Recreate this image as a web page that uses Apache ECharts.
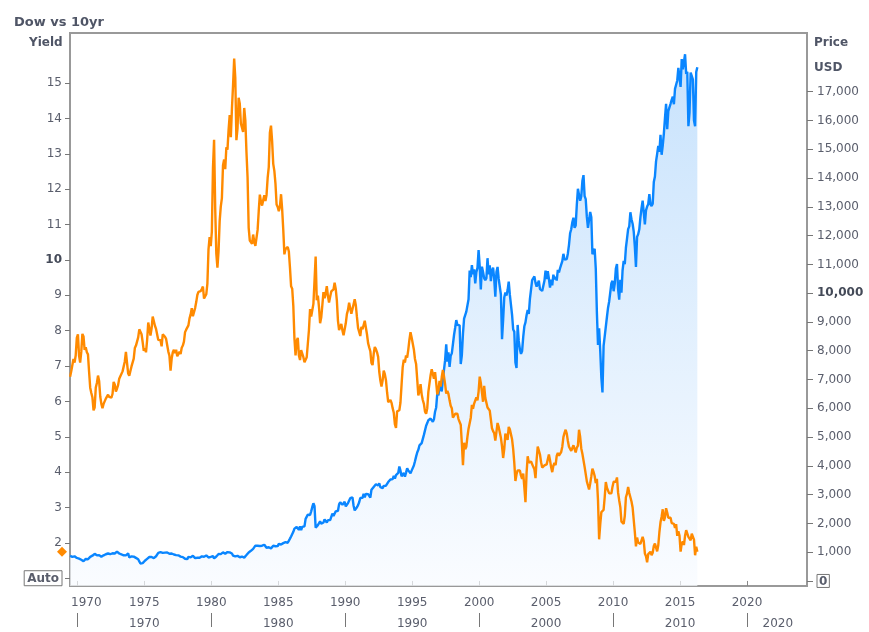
<!DOCTYPE html>
<html><head><meta charset="utf-8">
<script src="https://cdn.jsdelivr.net/npm/echarts@6/dist/echarts.min.js"></script>
<style>html,body{margin:0;padding:0;background:#fff}#c{width:869px;height:632px}</style>
</head><body><div id="c"></div>
<script>
// Monthly series starting June 1969, ending April 2016
const startYear = 1969, startMonth = 6;

const yield10 = [
  6.70, 6.85, 6.90, 7.20, 7.10, 7.30, 7.80,
  7.90, 7.30, 7.10, 7.40, 7.91, 7.84, 7.46, 7.53, 7.39, 7.33, 6.84, 6.39,
  6.24, 6.11, 5.75, 5.83, 6.39, 6.52, 6.73, 6.58, 6.14, 5.93, 5.81, 5.93,
  5.95, 6.08, 6.07, 6.19, 6.13, 6.11, 6.11, 6.21, 6.55, 6.48, 6.28, 6.36,
  6.46, 6.64, 6.71, 6.67, 6.85, 6.90, 7.13, 7.40, 7.09, 6.79, 6.73, 6.74,
  6.99, 6.96, 7.21, 7.51, 7.58, 7.54, 7.81, 8.04, 8.04, 7.90, 7.68, 7.43,
  7.50, 7.39, 7.73, 8.23, 8.06, 7.86, 8.06, 8.40, 8.43, 8.14, 8.05, 8.00,
  7.74, 7.79, 7.73, 7.56, 7.90, 7.86, 7.83, 7.77, 7.59, 7.41, 7.29, 6.87,
  7.21, 7.39, 7.46, 7.37, 7.46, 7.28, 7.33, 7.40, 7.34, 7.52, 7.58, 7.69,
  7.96, 8.03, 8.04, 8.15, 8.35, 8.46, 8.64, 8.41, 8.42, 8.64, 8.81, 9.01,
  9.10, 9.10, 9.12, 9.18, 9.25, 8.91, 8.95, 9.03, 9.33, 10.30, 10.65, 10.39,
  10.80, 12.60, 13.40, 11.47, 10.18, 9.78, 10.25, 11.10, 11.51, 11.75, 12.68, 12.84,
  12.57, 13.19, 13.12, 13.68, 14.10, 13.47, 14.28, 14.94, 15.70, 15.15, 13.39, 13.72,
  14.59, 14.43, 13.86, 13.87, 13.62, 14.30, 13.95, 13.06, 12.34, 10.91, 10.55, 10.54,
  10.46, 10.72, 10.51, 10.40, 10.38, 10.85, 11.38, 11.85, 11.65, 11.54, 11.69, 11.83,
  11.67, 11.84, 12.32, 12.63, 13.60, 13.80, 13.36, 12.72, 12.52, 12.16, 11.57, 11.50,
  11.38, 11.51, 11.86, 11.43, 10.85, 10.16, 10.31, 10.33, 10.37, 10.24, 9.78, 9.26,
  9.19, 8.70, 7.78, 7.30, 7.71, 7.80, 7.30, 7.17, 7.45, 7.43, 7.25, 7.11,
  7.08, 7.25, 7.25, 8.02, 8.61, 8.40, 8.45, 8.76, 9.42, 10.10, 8.86, 8.99,
  8.67, 8.21, 8.37, 8.72, 9.09, 8.92, 9.06, 9.26, 8.98, 8.80, 8.96, 9.11,
  9.09, 9.17, 9.36, 9.18, 8.86, 8.28, 8.02, 8.11, 8.19, 8.01, 7.87, 7.84,
  8.21, 8.47, 8.59, 8.79, 8.76, 8.48, 8.47, 8.75, 8.89, 8.72, 8.39, 8.08,
  8.09, 7.85, 8.11, 8.04, 8.07, 8.28, 8.27, 7.90, 7.65, 7.53, 7.42, 7.09,
  7.03, 7.34, 7.54, 7.48, 7.39, 7.26, 6.84, 6.59, 6.42, 6.59, 6.87, 6.77,
  6.60, 6.26, 5.98, 5.97, 6.04, 5.96, 5.81, 5.68, 5.36, 5.25, 5.72, 5.77,
  5.75, 5.97, 6.48, 6.97, 7.18, 7.10, 7.30, 7.24, 7.46, 7.74, 7.96, 7.81,
  7.78, 7.47, 7.20, 7.06, 6.63, 6.17, 6.28, 6.49, 6.20, 6.04, 5.93, 5.71,
  5.65, 5.81, 6.27, 6.51, 6.74, 6.91, 6.87, 6.64, 6.83, 6.53, 6.20, 6.30,
  6.58, 6.42, 6.69, 6.89, 6.71, 6.49, 6.22, 6.30, 6.21, 6.03, 5.88, 5.81,
  5.54, 5.57, 5.65, 5.64, 5.65, 5.50, 5.46, 5.34, 4.81, 4.20, 4.83, 4.65,
  4.72, 5.00, 5.23, 5.18, 5.54, 5.90, 5.79, 5.94, 5.92, 6.11, 6.03, 6.28,
  6.70, 6.52, 6.26, 5.99, 6.44, 6.10, 6.05, 5.83, 5.80, 5.74, 5.72, 5.24,
  5.16, 5.10, 4.89, 5.14, 5.39, 5.28, 5.24, 4.97, 4.73, 4.40, 4.65, 5.09,
  5.04, 4.91, 5.28, 5.21, 5.16, 4.93, 4.65, 4.26, 3.75, 3.94, 4.05, 4.03,
  4.05, 3.90, 3.81, 3.96, 3.57, 3.15, 3.98, 4.45, 4.27, 4.29, 4.30, 4.27,
  4.15, 4.08, 3.83, 4.35, 4.72, 4.73, 4.50, 4.28, 4.13, 4.10, 4.19, 4.23,
  4.22, 4.17, 4.50, 4.34, 4.14, 4.00, 4.18, 4.26, 4.20, 4.46, 4.54, 4.47,
  4.42, 4.57, 4.72, 4.99, 5.11, 5.20, 5.09, 4.88, 4.72, 4.73, 4.60, 4.56,
  4.76, 4.72, 4.56, 4.69, 4.75, 5.20, 5.00, 4.67, 4.52, 4.53, 4.15, 4.10,
  3.74, 3.74, 3.51, 3.68, 3.88, 4.10, 4.01, 3.89, 3.69, 3.81, 3.20, 2.10,
  2.52, 2.87, 2.82, 2.93, 3.29, 3.72, 3.56, 3.59, 3.40, 3.39, 3.40, 3.59,
  3.73, 3.69, 3.73, 3.85, 3.42, 3.20, 3.01, 2.60, 2.65, 2.54, 2.76, 3.29,
  3.39, 3.58, 3.41, 3.46, 3.17, 3.00, 3.00, 2.30, 1.90, 2.15, 2.01, 1.98,
  1.97, 1.97, 2.17, 2.05, 1.70, 1.62, 1.45, 1.68, 1.72, 1.75, 1.65, 1.72,
  1.91, 1.98, 1.96, 1.76, 1.93, 2.30, 2.58, 2.74, 2.95, 2.62, 2.72, 2.98,
  2.86, 2.71, 2.72, 2.71, 2.56, 2.60, 2.54, 2.42, 2.53, 2.20, 2.33, 2.21,
  1.75, 1.98, 2.04, 1.94, 2.20, 2.36, 2.32, 2.17, 2.17, 2.07, 2.26, 2.24,
  2.09, 1.65, 1.89, 1.75
];

const dow = [
  873, 815, 837, 813, 856, 812, 800,
  744, 778, 786, 736, 700, 684, 734, 765, 761, 756, 794, 839,
  869, 878, 904, 941, 907, 891, 858, 898, 887, 839, 831, 890,
  902, 928, 941, 954, 961, 929, 925, 964, 953, 956, 1018, 1020,
  999, 955, 951, 921, 901, 891, 926, 888, 947, 956, 822, 851,
  856, 861, 847, 837, 802, 802, 757, 679, 608, 666, 619, 616,
  704, 739, 768, 821, 832, 879, 832, 835, 794, 836, 860, 852,
  975, 973, 999, 997, 975, 1003, 985, 974, 990, 965, 948, 1005,
  954, 936, 919, 927, 899, 916, 891, 862, 847, 818, 830, 831,
  770, 742, 757, 837, 841, 819, 862, 877, 866, 793, 799, 805,
  839, 809, 862, 855, 822, 842, 846, 888, 879, 816, 822, 839,
  876, 863, 786, 817, 851, 868, 935, 933, 932, 925, 993, 964,
  947, 975, 1004, 998, 992, 977, 953, 882, 850, 853, 889, 875,
  871, 824, 823, 849, 820, 812, 809, 901, 896, 992, 1039, 1047,
  1076, 1113, 1130, 1226, 1200, 1222, 1199, 1216, 1233, 1225, 1276, 1259,
  1221, 1155, 1165, 1171, 1105, 1132, 1115, 1224, 1207, 1207, 1188, 1212,
  1287, 1284, 1267, 1258, 1315, 1336, 1348, 1334, 1329, 1375, 1472, 1547,
  1571, 1709, 1819, 1784, 1877, 1893, 1775, 1898, 1768, 1878, 1914, 1896,
  2158, 2224, 2305, 2286, 2292, 2419, 2572, 2700, 2596, 1850, 1834, 1939,
  1958, 2072, 1988, 2032, 2031, 2142, 2129, 2032, 2113, 2149, 2115, 2169,
  2342, 2258, 2294, 2419, 2480, 2440, 2661, 2737, 2693, 2645, 2706, 2753,
  2591, 2627, 2707, 2657, 2877, 2881, 2905, 2614, 2453, 2442, 2560, 2634,
  2736, 2882, 2914, 2888, 3028, 2907, 3025, 3044, 3017, 3070, 2895, 3169,
  3224, 3267, 3236, 3359, 3397, 3319, 3394, 3257, 3272, 3226, 3305, 3301,
  3310, 3371, 3436, 3428, 3527, 3516, 3540, 3651, 3555, 3681, 3684, 3754,
  3978, 3832, 3636, 3682, 3758, 3625, 3765, 3913, 3843, 3908, 3739, 3834,
  3844, 4011, 4158, 4321, 4465, 4556, 4709, 4650, 4789, 4756, 5075, 5117,
  5395, 5486, 5587, 5569, 5643, 5655, 5529, 5616, 5882, 6029, 6522, 6448,
  6813, 6878, 6584, 7009, 7331, 7673, 8223, 7622, 7945, 7442, 7823, 7908,
  7907, 8546, 8800, 9063, 8900, 8952, 8883, 7539, 7843, 8592, 9117, 9181,
  9359, 9307, 9786, 10789, 10560, 10971, 10655, 10829, 10337, 10730, 10878, 11497,
  10941, 10128, 10922, 10734, 10522, 10448, 10522, 11215, 10651, 10971, 10415, 10788,
  10887, 10495, 9879, 10735, 10912, 10502, 10523, 9950, 8400, 9075, 9852, 10022,
  9920, 10106, 10404, 9946, 9925, 9243, 8737, 8664, 7592, 7400, 8896, 8342,
  8054, 7891, 7992, 8480, 8850, 8985, 9234, 9416, 9275, 9801, 9782, 10454,
  10488, 10584, 10358, 10226, 10188, 10435, 10140, 10174, 10080, 10027, 10428, 10783,
  10490, 10766, 10504, 10193, 10467, 10275, 10641, 10482, 10569, 10440, 10806, 10718,
  10865, 10993, 11109, 11367, 11168, 11150, 11186, 11381, 11679, 12081, 12222, 12463,
  12622, 12269, 12354, 13063, 13628, 13409, 13212, 13358, 13896, 14100, 13372, 13265,
  12650, 12266, 12263, 12820, 12638, 11350, 11378, 11544, 10851, 9325, 8200, 8776,
  8001, 7063, 6550, 8168, 8500, 8447, 9172, 9496, 9712, 9713, 10345, 10428,
  10067, 10325, 10857, 11009, 10137, 9774, 10466, 10015, 10788, 11118, 11006, 11578,
  11892, 12226, 12320, 12811, 12570, 12414, 12143, 11614, 10913, 11955, 12046, 12218,
  12633, 12952, 13212, 13214, 12393, 12880, 13009, 13091, 13437, 13096, 13026, 13104,
  13861, 14054, 14579, 14840, 15116, 14910, 15500, 14810, 15130, 15546, 16086, 16577,
  15699, 16322, 16458, 16581, 16717, 16827, 16563, 17098, 17043, 17391, 17828, 17823,
  17165, 18133, 17776, 17841, 18300, 17620, 17690, 15800, 16285, 17664, 17720, 17425,
  16000, 15800, 17685, 17850
];

const yearTicks = [1970, 1975, 1980, 1985, 1990, 1995, 2000, 2005, 2010, 2015, 2020];
const decadeTicks = [1970, 1980, 1990, 2000, 2010, 2020];
const decadeLabelPos = [1975, 1985, 1995, 2005, 2015, 2022.3];
const yieldTicks = [1, 2, 3, 4, 5, 6, 7, 8, 9, 10, 11, 12, 13, 14, 15];
const priceTicks = [0, 1000, 2000, 3000, 4000, 5000, 6000, 7000, 8000, 9000, 10000, 11000, 12000, 13000, 14000, 15000, 16000, 17000];

const monthX = i => startYear + (startMonth - 1 + i + 0.5) / 12;
const yieldData = yield10.map((v, i) => [monthX(i), v]);
const dowData = dow.map((v, i) => [monthX(i), v]);

const FONT = 'DejaVu Sans';
const TXT = '#5a5e6c';
const boxStyle = { borderColor: '#777', borderWidth: 1, padding: [2, 3, 1, 3], color: TXT, fontFamily: FONT, fontSize: 12, fontWeight: 'bold' };
const boldStyle = { fontWeight: 'bold', color: '#444a58', fontFamily: FONT, fontSize: 12 };

const chart = echarts.init(document.getElementById('c'), null, { renderer: 'canvas' });
const labelsGraphic = [
  { type: 'text', left: 29, top: 37, style: { text: 'Yield', fontFamily: FONT, fontSize: 12, fontWeight: 'bold', fill: '#4f5566' } },
  { type: 'text', left: 814, top: 37, style: { text: 'Price', fontFamily: FONT, fontSize: 12, fontWeight: 'bold', fill: '#4f5566' } },
  { type: 'text', left: 814, top: 62, style: { text: 'USD', fontFamily: FONT, fontSize: 12, fontWeight: 'bold', fill: '#4f5566' } }
];
chart.setOption({
  animation: false,
  backgroundColor: '#fff',
  title: {
    text: 'Dow vs 10yr', left: 9, top: 11,
    textStyle: { fontFamily: FONT, fontSize: 13, fontWeight: 'bold', color: '#4f5566' }
  },
  grid: { left: 70, right: 62, top: 33, bottom: 46, show: true, borderColor: '#999', borderWidth: 2, backgroundColor: 'transparent' },
  xAxis: [
    {
      type: 'value', min: 1969.45, max: 2024.48, position: 'bottom',
      axisLine: { show: false }, splitLine: { show: false },
      axisTick: { show: true, length: 5, customValues: yearTicks, lineStyle: { color: '#888' } },
      axisLabel: {
        customValues: yearTicks, margin: 11, color: TXT, fontFamily: FONT, fontSize: 12,
        formatter: v => v === 1970 ? '{first|1970}' : String(v),
        rich: { first: { padding: [0, 0, 0, 18], color: TXT, fontFamily: FONT, fontSize: 12 } }
      }
    },
    {
      type: 'value', min: 1969.45, max: 2024.48, position: 'bottom', offset: 27,
      axisLine: { show: false }, splitLine: { show: false },
      axisTick: { show: true, length: 14, customValues: decadeTicks, lineStyle: { color: '#777' } },
      axisLabel: {
        customValues: decadeLabelPos, margin: 5, color: TXT, fontFamily: FONT, fontSize: 12,
        formatter: v => String(Math.floor(v / 10) * 10)
      }
    }
  ],
  yAxis: [
    {
      type: 'value', min: 0.78, max: 16.42, position: 'left',
      axisLine: { show: false }, splitLine: { show: false },
      axisTick: { show: true, length: 5, customValues: yieldTicks, lineStyle: { color: '#777' } },
      axisLabel: {
        customValues: yieldTicks, margin: 8, color: TXT, fontFamily: FONT, fontSize: 12,
        formatter: v => v === 1 ? '{box|Auto}' : (v === 10 ? '{b|10}' : String(v)),
        rich: { box: boxStyle, b: boldStyle }
      }
    },
    {
      type: 'value', min: -175, max: 19040, position: 'right',
      axisLine: { show: false }, splitLine: { show: false },
      axisTick: { show: true, length: 6, customValues: priceTicks, lineStyle: { color: '#777' } },
      axisLabel: {
        customValues: priceTicks, margin: 10, color: TXT, fontFamily: FONT, fontSize: 12,
        formatter: v => v === 0 ? '{box|0}' : (v === 10000 ? '{b|10,000}' : v.toLocaleString('en-US')),
        rich: { box: Object.assign({}, boxStyle, { padding: [1, 2, 0, 2] }), b: boldStyle }
      }
    }
  ],
  series: [
    {
      name: 'Dow', type: 'line', xAxisIndex: 0, yAxisIndex: 1, data: dowData,
      showSymbol: false, z: 2,
      lineStyle: { color: '#0a86ff', width: 2.4 },
      itemStyle: { color: '#0a86ff' },
      areaStyle: {
        origin: 'start',
        color: new echarts.graphic.LinearGradient(0, 0, 0, 1, [
          { offset: 0, color: '#b0d6fb' },
          { offset: 1, color: '#f8fbff' }
        ])
      }
    },
    {
      name: '10yr', type: 'line', xAxisIndex: 0, yAxisIndex: 0, data: yieldData,
      showSymbol: false, z: 3,
      lineStyle: { color: '#ff8a00', width: 2.4 },
      itemStyle: { color: '#ff8a00' }
    }
  ],
  graphic: labelsGraphic
});

// last-value marker for the yield, placed beside the left axis
const lastY = chart.convertToPixel({ yAxisIndex: 0 }, yield10[yield10.length - 1]);
const axisX = chart.convertToPixel({ xAxisIndex: 0 }, 1969.45);
chart.setOption({
  graphic: labelsGraphic.concat([
    {
      type: 'polygon', z: 100,
      shape: { points: [[axisX - 8, lastY - 5], [axisX - 3, lastY], [axisX - 8, lastY + 5], [axisX - 13, lastY]] },
      style: { fill: '#ff8a00' }
    }
  ])
});
</script>
</body></html>
